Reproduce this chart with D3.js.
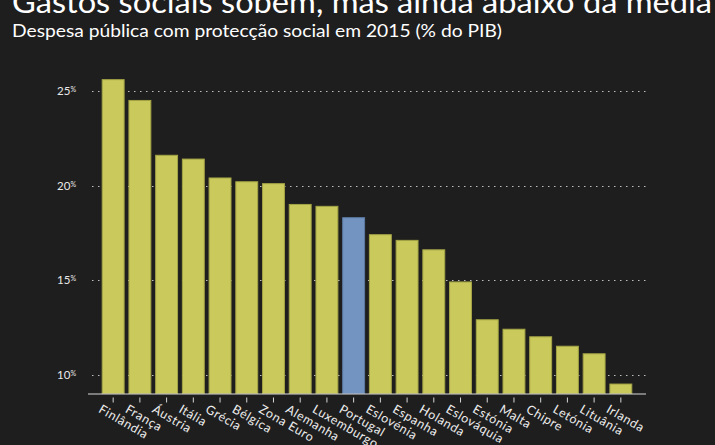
<!DOCTYPE html>
<html>
<head>
<meta charset="utf-8">
<script src="https://cdn.jsdelivr.net/npm/d3@7"></script>
<style>
  body { margin: 0; background: #1e1e1e; }
  svg { display: block; font-family: Lato, "Open Sans", sans-serif; }
</style>
</head>
<body>
<svg width="715" height="445"></svg>
<script>
var countries = ["Finlândia", "França", "Áustria", "Itália", "Grécia", "Bélgica", "Zona Euro",
                 "Alemanha", "Luxemburgo", "Portugal", "Eslovénia", "Espanha", "Holanda",
                 "Eslováquia", "Estónia", "Malta", "Chipre", "Letónia", "Lituânia", "Irlanda"];
var despesa = [25.6, 24.5, 21.6, 21.4, 20.4, 20.2, 20.1, 19.0, 18.9, 18.3, 17.4, 17.1, 16.6,
               14.9, 12.9, 12.4, 12.0, 11.5, 11.1, 9.5];
var yTicks = [10, 15, 20, 25];
var highlight = "Portugal";

var svg = d3.select("svg");

svg.append("rect").attr("width", 715).attr("height", 445).attr("fill", "#1e1e1e");

svg.append("text")
    .attr("x", 12).attr("y", 13)
    .attr("fill", "#ffffff")
    .style("font-size", "31px")
    .attr("textLength", 700)
    .attr("lengthAdjust", "spacingAndGlyphs")
    .text("Gastos sociais sobem, mas ainda abaixo da média");

svg.append("text")
    .attr("x", 12).attr("y", 37)
    .attr("fill", "#ffffff")
    .style("font-size", "17px")
    .attr("textLength", 490)
    .attr("lengthAdjust", "spacingAndGlyphs")
    .text("Despesa pública com protecção social em 2015 (% do PIB)");

var xScale = d3.scaleBand().domain(countries).range([99, 635]).paddingInner(0.18).paddingOuter(0.12),
    yScale = d3.scaleLinear().domain([9, 25]).range([393.5, 91]);

// gridlines
svg.append("g")
    .selectAll("line")
    .data(yTicks)
    .enter().append("line")
    .attr("x1", 92).attr("x2", 646)
    .attr("y1", function(d) { return Math.round(yScale(d)) + 0.5; })
    .attr("y2", function(d) { return Math.round(yScale(d)) + 0.5; })
    .attr("stroke", "#bdbdbd")
    .attr("stroke-width", 1.2)
    .attr("stroke-dasharray", "1.5,4.5");

// tick labels, small raised % sign
var tl = svg.append("g")
    .selectAll("text")
    .data(yTicks)
    .enter().append("text")
    .attr("x", 76)
    .attr("y", function(d) { return yScale(d) + 4; })
    .attr("text-anchor", "end")
    .attr("fill", "#e8e8e8")
    .style("font-size", "11.5px");
tl.append("tspan").text(function(d) { return d; });
tl.append("tspan").attr("dy", -3).style("font-size", "7px").text("%");

// bars
svg.append("g")
    .selectAll("rect")
    .data(countries)
    .enter().append("rect")
    .attr("x", function(d) { return xScale(d); })
    .attr("y", function(d, i) { return yScale(despesa[i]); })
    .attr("width", xScale.bandwidth())
    .attr("height", function(d, i) { return yScale(9) - yScale(despesa[i]); })
    .attr("fill", function(d) { return d == highlight ? "#7394c1" : "#c9c95c"; })
    .attr("stroke", function(d) { return d == highlight ? "#5c7aa3" : "#a4a446"; })
    .attr("stroke-width", 1);

// x axis
var xAxis = svg.append("g")
    .attr("transform", "translate(0," + 393.5 + ")")
    .call(d3.axisBottom(xScale).tickSize(5).tickSizeOuter(0));
xAxis.select(".domain").attr("stroke", "#d8d8d8").attr("d", "M88,0.5H646");
xAxis.selectAll(".tick line").attr("stroke", "#d8d8d8").attr("y1", 4).attr("y2", 9);
xAxis.selectAll(".tick text")
    .attr("fill", "#ececec")
    .style("font-size", "12.5px")
    .style("font-family", "Lato, sans-serif")
    .style("letter-spacing", "0.6px")
    .attr("text-anchor", "start")
    .attr("transform", "translate(-9,7) rotate(30)")
    .attr("x", 0).attr("y", 4).attr("dy", "0.71em");
</script>
</body>
</html>
